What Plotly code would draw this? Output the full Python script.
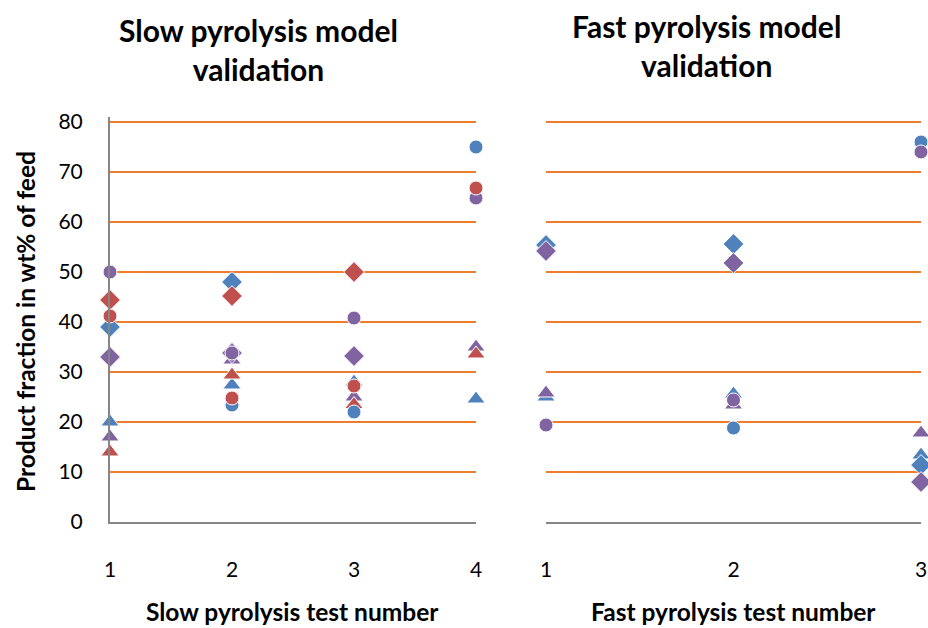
import plotly.graph_objects as go

# ---- data ----
slow_tests = [1, 2, 3, 4]
fast_tests = [1, 2, 3]

slow_tri_blue = [20, 27.4, 28, 24.6]
slow_tri_purple = [17, 32.4, 25, 35]
slow_tri_red = [14, 29.4, 23.5, 33.6]
slow_dia_blue = [39, 48, None, None]
slow_dia_purple = [33, 33.8, 33.2, None]
slow_dia_red = [44.4, 45.2, 50, None]
slow_circ_blue = [None, 23.4, 22, 75]
slow_circ_purple = [50, 33.8, 40.8, 64.8]
slow_circ_red = [41.2, 24.8, 27.2, 66.8]

fast_tri_blue = [25, 25.6, 13.4]
fast_tri_purple = [25.8, 23.4, 17.8]
fast_dia_blue = [55.4, 55.6, 11.4]
fast_dia_purple = [54.2, 51.8, 8]
fast_circ_blue = [None, 18.8, 76]
fast_circ_purple = [19.4, 24.4, 74]

y_ticks = [0, 10, 20, 30, 40, 50, 60, 70, 80]

BLUE, PURPLE, RED = "#4F81BD", "#8064A2", "#C0504D"
GRID = "#ED7D31"
AXIS = "#868686"
FONT = "Lato"

fig = go.Figure()

def add(x, y, color, symbol, size, xa, ya):
    fig.add_trace(go.Scatter(
        x=x, y=y, mode="markers", xaxis=xa, yaxis=ya, cliponaxis=False,
        showlegend=False,
        marker=dict(color=color, symbol=symbol, size=size,
                    line=dict(color="white", width=1))))

slow_series = [
    (slow_tri_blue, BLUE, "triangle-up", 16),
    (slow_tri_purple, PURPLE, "triangle-up", 16),
    (slow_tri_red, RED, "triangle-up", 16),
    (slow_dia_blue, BLUE, "diamond", 16),
    (slow_dia_purple, PURPLE, "diamond", 16),
    (slow_dia_red, RED, "diamond", 16),
    (slow_circ_blue, BLUE, "circle", 14),
    (slow_circ_purple, PURPLE, "circle", 14),
    (slow_circ_red, RED, "circle", 14),
]
for y, c, s, sz in slow_series:
    add(slow_tests, y, c, s, sz, "x", "y")

fast_series = [
    (fast_tri_blue, BLUE, "triangle-up", 16),
    (fast_tri_purple, PURPLE, "triangle-up", 16),
    (fast_dia_blue, BLUE, "diamond", 16),
    (fast_dia_purple, PURPLE, "diamond", 16),
    (fast_circ_blue, BLUE, "circle", 14),
    (fast_circ_purple, PURPLE, "circle", 14),
]
for y, c, s, sz in fast_series:
    add(fast_tests, y, c, s, sz, "x2", "y2")

W, H = 928, 628
def px(v): return v / W
def py(v): return 1 - v / H

tickfont = dict(family=FONT, size=21, color="black")
yax = dict(range=[0, 81], tickvals=y_ticks, showgrid=True, gridcolor=GRID,
           gridwidth=2, zeroline=True, zerolinecolor="rgba(0,0,0,0)",
           ticks="", domain=[py(522), py(117)], tickfont=tickfont,
           automargin=False)
xax = dict(showgrid=False, zeroline=False, showline=True, linecolor=AXIS,
           linewidth=2, ticks="", tickfont=tickfont, ticklabelstandoff=28,
           automargin=False)

fig.update_layout(
    width=W, height=H, margin=dict(l=0, r=0, t=0, b=0, autoexpand=False),
    paper_bgcolor="white", plot_bgcolor="white",
    xaxis=dict(**xax, domain=[px(110), px(476)], range=[1, 4],
               tickvals=slow_tests, anchor="y"),
    xaxis2=dict(**xax, domain=[px(546), px(921)], range=[1, 3],
                tickvals=fast_tests, anchor="y2"),
    yaxis=dict(**yax, showline=True, linecolor=AXIS, linewidth=2,
               ticklabelstandoff=21, anchor="x"),
    yaxis2=dict(**yax, showline=False, showticklabels=False, anchor="x2"),
)

title_font = dict(family=FONT, size=30, color="black", weight="bold")
label_font = dict(family=FONT, size=24.5, color="black", weight="bold")
fig.add_annotation(text="Slow pyrolysis model<br>validation", x=px(258), y=py(49),
                   xref="paper", yref="paper", showarrow=False, font=title_font,
                   xanchor="center", yanchor="middle")
fig.add_annotation(text="Fast pyrolysis model<br>validation", x=px(706), y=py(46),
                   xref="paper", yref="paper", showarrow=False, font=title_font,
                   xanchor="center", yanchor="middle")
fig.add_annotation(text="Product fraction in wt% of feed", x=px(25), y=py(322),
                   xref="paper", yref="paper", showarrow=False, font=label_font,
                   textangle=-90, xanchor="center", yanchor="middle")
fig.add_annotation(text="Slow pyrolysis test number", x=px(292), y=py(611),
                   xref="paper", yref="paper", showarrow=False, font=label_font,
                   xanchor="center", yanchor="middle")
fig.add_annotation(text="Fast pyrolysis test number", x=px(733), y=py(611),
                   xref="paper", yref="paper", showarrow=False, font=label_font,
                   xanchor="center", yanchor="middle")

fig.write_html("out.html",
               config={"displayModeBar": False},
               post_script="document.body.style.margin='0';"
                           "document.body.style.overflow='hidden';")
